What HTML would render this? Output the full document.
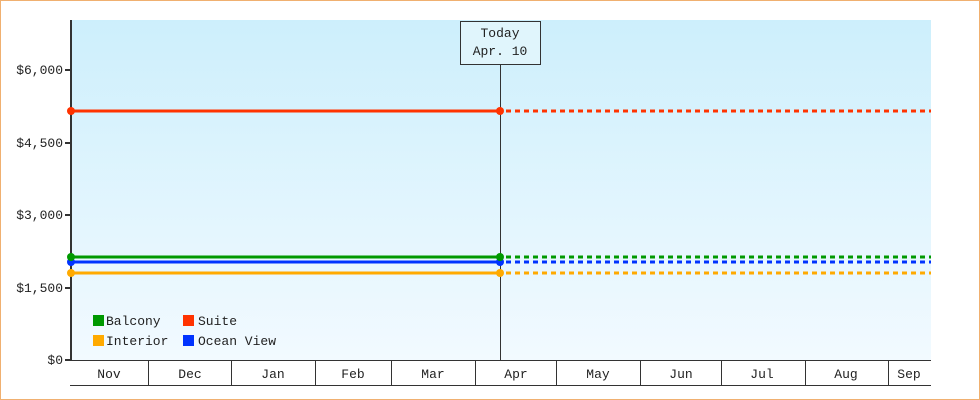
<!DOCTYPE html>
<html><head><style>body{margin:0}svg{display:block}</style></head><body>
<svg width="980" height="400" xmlns="http://www.w3.org/2000/svg" font-family="Liberation Mono, monospace" font-size="13" fill="#222">
<defs><linearGradient id="g" x1="0" y1="0" x2="0" y2="1"><stop offset="0" stop-color="#cdeffc"/><stop offset="1" stop-color="#f2faff"/></linearGradient></defs>
<rect x="0.5" y="0.5" width="979" height="399" fill="#fff" stroke="#f0b070"/>
<rect x="71" y="20" width="860" height="340" fill="url(#g)"/>
<g stroke="#333" stroke-width="2"><line x1="71" y1="20" x2="71" y2="361"/>
<line x1="65" y1="70" x2="71" y2="70"/><line x1="65" y1="143" x2="71" y2="143"/><line x1="65" y1="215" x2="71" y2="215"/><line x1="65" y1="288" x2="71" y2="288"/><line x1="65" y1="360" x2="71" y2="360"/></g>
<g text-anchor="end"><text x="63" y="74">$6,000</text><text x="63" y="147">$4,500</text><text x="63" y="219">$3,000</text><text x="63" y="292">$1,500</text><text x="63" y="364">$0</text></g>
<g stroke="#333" stroke-width="1"><line x1="70" y1="360.5" x2="931" y2="360.5"/><line x1="70" y1="385.5" x2="931" y2="385.5"/>
<line x1="148.5" y1="360" x2="148.5" y2="385"/><line x1="231.5" y1="360" x2="231.5" y2="385"/><line x1="315.5" y1="360" x2="315.5" y2="385"/><line x1="391.5" y1="360" x2="391.5" y2="385"/><line x1="475.5" y1="360" x2="475.5" y2="385"/><line x1="556.5" y1="360" x2="556.5" y2="385"/><line x1="640.5" y1="360" x2="640.5" y2="385"/><line x1="721.5" y1="360" x2="721.5" y2="385"/><line x1="805.5" y1="360" x2="805.5" y2="385"/><line x1="888.5" y1="360" x2="888.5" y2="385"/>
<line x1="500.5" y1="64" x2="500.5" y2="360"/></g>
<g text-anchor="middle"><text x="109" y="378">Nov</text><text x="190" y="378">Dec</text><text x="273" y="378">Jan</text><text x="353" y="378">Feb</text><text x="433" y="378">Mar</text><text x="516" y="378">Apr</text><text x="598" y="378">May</text><text x="681" y="378">Jun</text><text x="762" y="378">Jul</text><text x="846" y="378">Aug</text><text x="909" y="378">Sep</text></g>
<rect x="460.5" y="21.5" width="80" height="43" fill="#e0f5fc" stroke="#333"/>
<g text-anchor="middle"><text x="500" y="37">Today</text><text x="500" y="55">Apr. 10</text></g>
<g stroke-width="3"><line x1="71" y1="111" x2="500" y2="111" stroke="#ff3300"/><line x1="506" y1="111" x2="931" y2="111" stroke="#ff3300" stroke-dasharray="5,4"/>
<line x1="71" y1="257" x2="500" y2="257" stroke="#009900"/><line x1="506" y1="257" x2="931" y2="257" stroke="#009900" stroke-dasharray="5,4"/>
<line x1="71" y1="262" x2="500" y2="262" stroke="#0033ff"/><line x1="506" y1="262" x2="931" y2="262" stroke="#0033ff" stroke-dasharray="5,4"/>
<line x1="71" y1="273" x2="500" y2="273" stroke="#ffaa00"/><line x1="506" y1="273" x2="931" y2="273" stroke="#ffaa00" stroke-dasharray="5,4"/></g>
<g><circle cx="71" cy="111" r="4" fill="#ff3300"/><circle cx="500" cy="111" r="4" fill="#ff3300"/>
<circle cx="71" cy="262" r="4" fill="#0033ff"/><circle cx="500" cy="262" r="4" fill="#0033ff"/>
<circle cx="71" cy="257" r="4" fill="#009900"/><circle cx="500" cy="257" r="4" fill="#009900"/>
<circle cx="71" cy="273" r="4" fill="#ffaa00"/><circle cx="500" cy="273" r="4" fill="#ffaa00"/></g>
<rect x="93" y="315" width="11" height="11" fill="#009900"/><text x="106" y="325">Balcony</text>
<rect x="183" y="315" width="11" height="11" fill="#ff3300"/><text x="198" y="325">Suite</text>
<rect x="93" y="335" width="11" height="11" fill="#ffaa00"/><text x="106" y="345">Interior</text>
<rect x="183" y="335" width="11" height="11" fill="#0033ff"/><text x="198" y="345">Ocean View</text>
</svg>
</body></html>
